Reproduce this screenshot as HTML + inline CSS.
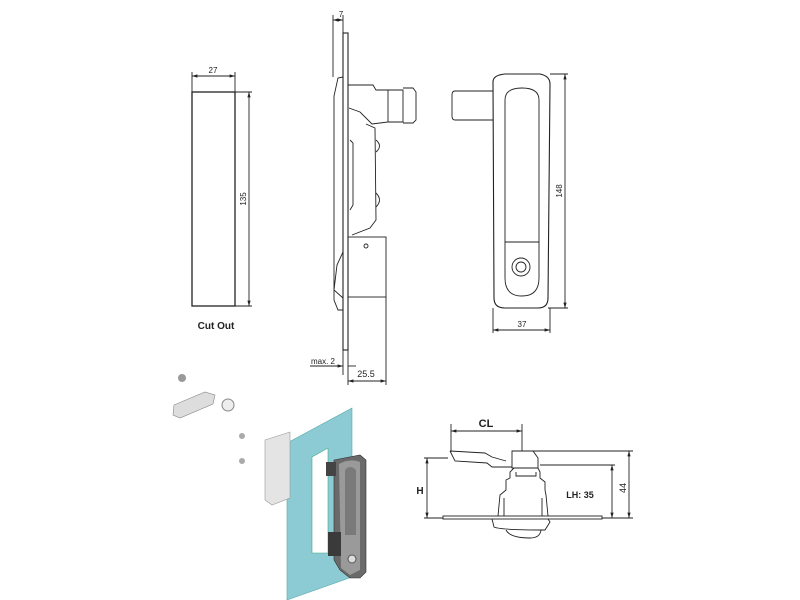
<!DOCTYPE html>
<html><head><meta charset="utf-8"><style>
html,body{margin:0;padding:0;background:#fff;}
svg{display:block;}
text{font-family:"Liberation Sans",sans-serif;fill:#222;}
</style></head><body>
<svg width="800" height="600" viewBox="0 0 800 600" xmlns="http://www.w3.org/2000/svg">
<defs>
<marker id="a" viewBox="0 0 10 10" refX="10" refY="5" markerWidth="6" markerHeight="6" orient="auto-start-reverse"><path d="M0,2 L10,5 L0,8 z" fill="#222"/></marker>
</defs>
<g fill="none" stroke="#222" stroke-width="0.9">
<!-- Cut out -->
<rect x="192" y="92" width="43" height="214" stroke-width="1.3"/>
<line x1="192" y1="72" x2="192" y2="92"/><line x1="235" y1="72" x2="235" y2="92"/>
<line x1="192" y1="76" x2="235" y2="76" marker-start="url(#a)" marker-end="url(#a)"/>
<line x1="235" y1="92" x2="252" y2="92"/><line x1="235" y1="306" x2="252" y2="306"/>
<line x1="249" y1="92" x2="249" y2="306" marker-start="url(#a)" marker-end="url(#a)"/>

<!-- Side view -->
<rect x="343" y="33" width="5" height="317" stroke-width="1.1"/>
<path d="M343,77 L338,78 L334,96 L334,300 L338,310 L343,310"/>
<path d="M348,85 L373,85 L376,90 L388,90 L388,122 L372,124 L360,112 L349,108"/>
<path d="M388,90 L403,90 L403,122 L388,122"/>
<path d="M403,88 L413,88 L416,92 L416,120 L413,123 L403,123"/>
<path d="M366,124 L375,128 L376,220 L370,228 L352,235"/>
<path d="M376,140 Q383,146 376,152 M376,193 Q383,200 376,207"/>
<path d="M350,140 L353,143 L353,205 L350,210"/>
<rect x="348" y="237" width="38" height="60"/>
<circle cx="366" cy="246" r="2"/>
<path d="M343,252 L337,265 L334,290 L343,298"/>
<!-- side dims -->
<line x1="333" y1="15" x2="333" y2="77"/><line x1="343" y1="15" x2="343" y2="33"/>
<line x1="333" y1="20" x2="343" y2="20" marker-start="url(#a)" marker-end="url(#a)"/>
<line x1="343" y1="350" x2="343" y2="375"/><line x1="348" y1="350" x2="348" y2="385"/>
<line x1="386" y1="297" x2="386" y2="385"/>
<line x1="310" y1="366" x2="343" y2="366" marker-end="url(#a)"/>
<line x1="348" y1="366" x2="356" y2="366"/>
<line x1="348" y1="381" x2="386" y2="381" marker-start="url(#a)" marker-end="url(#a)"/>

<!-- Front view -->
<path d="M493,91 L455,91 Q452,91 452,95 L452,116 Q452,120 455,120 L493,120"/>
<path d="M493,82 Q493,75 505,74 L540,74 Q550,76 550,84 L548,298 Q548,308 538,308 L505,308 Q494,308 494,298 Z" stroke-width="1.1"/>
<path d="M505,100 Q505,88 522,88 Q539,88 539,100 L539,242 L505,242 Z"/>
<path d="M505,242 L505,278 Q505,296 522,296 Q539,296 539,278 L539,242"/>
<circle cx="521" cy="267" r="9"/><circle cx="521" cy="267" r="5"/>
<line x1="550" y1="74" x2="568" y2="74"/><line x1="548" y1="308" x2="568" y2="308"/>
<line x1="565" y1="74" x2="565" y2="308" marker-start="url(#a)" marker-end="url(#a)"/>
<line x1="493" y1="308" x2="493" y2="333"/><line x1="550" y1="308" x2="550" y2="333"/>
<line x1="493" y1="330" x2="550" y2="330" marker-start="url(#a)" marker-end="url(#a)"/>

<!-- Section bottom right -->
<rect x="443" y="516" width="159" height="3"/>
<path d="M492,519 L494,527 Q500,530 545,530 L550,522 L548,519"/>
<path d="M506,530 Q510,538 530,538 Q540,538 541,530"/>
<path d="M450,451 L455,461 L487,463 L492,467 L512,467"/>
<path d="M450,451 L485,453 L492,457 L506,461"/>
<path d="M512,451 L533,451 L538,458 L538,468 L512,468 L512,458 Z"/>
<path d="M514,468 L510,472 L510,478 L506,480 L506,490 L500,495 L498,516"/>
<path d="M538,468 L540,472 L540,478 L545,482 L545,490 L546,495 L548,516"/>
<path d="M504,498 L504,516 M542,498 L542,516"/>
<path d="M516,472 L516,476 L536,476 L536,472"/>
<line x1="451" y1="424" x2="451" y2="452"/><line x1="522" y1="424" x2="522" y2="451"/>
<line x1="451" y1="431" x2="522" y2="431" marker-start="url(#a)" marker-end="url(#a)"/>
<line x1="424" y1="458" x2="448" y2="458"/><line x1="424" y1="518" x2="443" y2="518"/>
<line x1="427" y1="458" x2="427" y2="518" marker-start="url(#a)" marker-end="url(#a)"/>
<line x1="533" y1="451" x2="633" y2="451"/><line x1="540" y1="465" x2="615" y2="465"/>
<line x1="602" y1="518" x2="633" y2="518"/>
<line x1="612" y1="465" x2="612" y2="518" marker-start="url(#a)" marker-end="url(#a)"/>
<line x1="629" y1="451" x2="629" y2="518" marker-start="url(#a)" marker-end="url(#a)"/>
</g>

<!-- Exploded 3D view -->
<polygon points="287,443 352,408 352,577 287,600" fill="#8ccbd3" stroke="#5aa" stroke-width="0.6"/>
<polygon points="312,457 328,448 328,553 312,553" fill="#fff" stroke="#4a8" stroke-width="0.6"/>
<path d="M334,460 L360,455 L366,460 L366,572 L360,578 L350,578 L340,570 L334,560 Z" fill="#6a6a6a" stroke="#333" stroke-width="0.6"/>
<path d="M339,464 Q350,458 360,462 L360,570 L350,575 L341,568 Z" fill="#9a9a9a"/>
<path d="M345,470 Q350,464 356,470 L356,535 L345,535 Z" fill="#7a7a7a"/>
<rect x="328" y="532" width="13" height="24" fill="#3a3a3a"/>
<circle cx="352" cy="559" r="4" fill="#ddd" stroke="#555"/>
<rect x="326" y="462" width="10" height="14" fill="#444"/>
<path d="M265,440 L290,432 L290,498 L272,505 L265,500 Z" fill="#e4e4e4" stroke="#999" stroke-width="0.6"/>
<path d="M174,405 L205,392 L215,395 L213,404 L180,418 L173,415 Z" fill="#ddd" stroke="#888" stroke-width="0.6"/>
<circle cx="182" cy="378" r="4" fill="#999"/>
<circle cx="228" cy="405" r="6" fill="#eee" stroke="#888"/>
<circle cx="242" cy="436" r="3" fill="#aaa"/><circle cx="242" cy="461" r="3" fill="#aaa"/>

<!-- Labels -->
<text x="213" y="73" font-size="8" text-anchor="middle">27</text>
<text x="0" y="0" font-size="8" text-anchor="middle" transform="translate(246,199) rotate(-90)">135</text>
<text x="216" y="329" font-size="10" font-weight="bold" text-anchor="middle">Cut Out</text>
<text x="341" y="17" font-size="8" text-anchor="middle">7</text>
<text x="311" y="364" font-size="8">max. 2</text>
<text x="366" y="377" font-size="9" text-anchor="middle">25.5</text>
<text x="0" y="0" font-size="8" text-anchor="middle" transform="translate(562,191) rotate(-90)">148</text>
<text x="522" y="327" font-size="8" text-anchor="middle">37</text>
<text x="486" y="427" font-size="11" font-weight="bold" text-anchor="middle">CL</text>
<text x="420" y="494" font-size="10" font-weight="bold" text-anchor="middle">H</text>
<text x="580" y="498" font-size="9" font-weight="bold" text-anchor="middle">LH: 35</text>
<text x="0" y="0" font-size="9" text-anchor="middle" transform="translate(626,488) rotate(-90)">44</text>
</svg>
</body></html>
